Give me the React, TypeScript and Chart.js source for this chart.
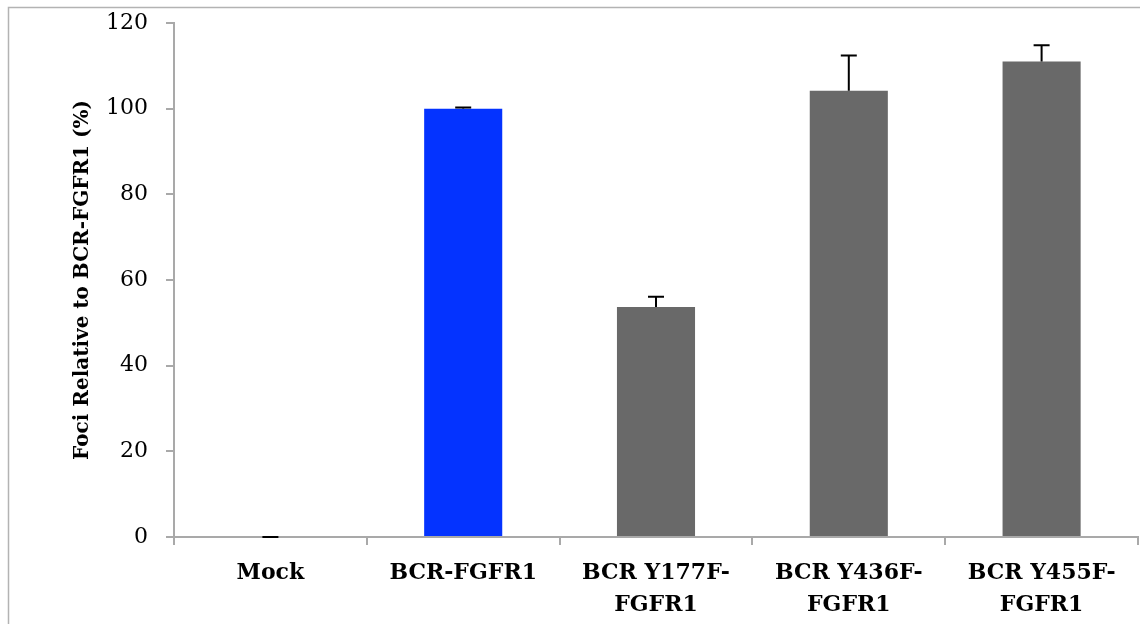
import React, { useEffect, useRef } from "react";
import { Chart, registerables } from "chart.js";

Chart.register(...registerables);

const categories: string[][] = [
  ["Mock"],
  ["BCR-FGFR1"],
  ["BCR Y177F-", "FGFR1"],
  ["BCR Y436F-", "FGFR1"],
  ["BCR Y455F-", "FGFR1"],
];
const values: number[] = [0, 100, 53.7, 104.2, 111.0];
const errors: number[] = [0, 0.3, 2.4, 8.2, 3.8];
const barColors: string[] = ["#696969", "#0433FF", "#696969", "#696969", "#696969"];
const yTicks: number[] = [0, 20, 40, 60, 80, 100, 120];

const FONT = "'DejaVu Serif', 'Liberation Serif', serif";
const AXIS_GRAY = "#a9a9a9";

const frameBorder = {
  id: "frameBorder",
  beforeDraw(chart: any) {
    const ctx = chart.ctx;
    ctx.save();
    ctx.fillStyle = "#ffffff";
    ctx.fillRect(0, 0, chart.width, chart.height);
    ctx.strokeStyle = "#b3b3b3";
    ctx.lineWidth = 1.5;
    ctx.beginPath();
    ctx.moveTo(8.5, chart.height + 10);
    ctx.lineTo(8.5, 7.5);
    ctx.lineTo(chart.width + 10, 7.5);
    ctx.stroke();
    ctx.restore();
  },
};

const errorBars = {
  id: "errorBars",
  afterDatasetsDraw(chart: any) {
    const ctx = chart.ctx;
    const meta = chart.getDatasetMeta(0);
    const yScale = chart.scales.y;
    ctx.save();
    ctx.strokeStyle = "#000000";
    ctx.lineWidth = 2;
    meta.data.forEach((bar: any, i: number) => {
      const x = bar.x;
      const y0 = yScale.getPixelForValue(values[i]);
      const y1 = yScale.getPixelForValue(values[i] + errors[i]);
      ctx.beginPath();
      ctx.moveTo(x, y0);
      ctx.lineTo(x, y1);
      ctx.moveTo(x - 8, y1);
      ctx.lineTo(x + 8, y1);
      ctx.stroke();
    });
    ctx.restore();
  },
};

export default function App() {
  const ref = useRef<HTMLCanvasElement | null>(null);
  useEffect(() => {
    if (!ref.current) return;
    const chart = new Chart(ref.current, {
      type: "bar",
      data: {
        labels: categories as any,
        datasets: [
          {
            data: values,
            backgroundColor: barColors,
            borderWidth: 0,
            barPercentage: 0.405,
            categoryPercentage: 1,
          },
        ],
      },
      options: {
        animation: false,
        responsive: false,
        maintainAspectRatio: false,
        layout: { padding: { top: 23, right: 2, left: 0, bottom: 0 } },
        plugins: {
          legend: { display: false },
          tooltip: { enabled: false },
        },
        scales: {
          x: {
            offset: true,
            grid: {
              display: true,
              drawOnChartArea: false,
              drawTicks: true,
              tickLength: 8,
              color: AXIS_GRAY,
              lineWidth: 2,
              offset: true,
            },
            border: { display: true, color: AXIS_GRAY, width: 2 },
            ticks: {
              color: "#000000",
              padding: 12,
              font: { family: FONT, size: 22, weight: "bold", lineHeight: 1.45 },
              maxRotation: 0,
              autoSkip: false,
            },
            afterFit(scale: any) {
              scale.height = 624 - 537;
            },
          },
          y: {
            min: 0,
            max: 120,
            afterBuildTicks(scale: any) {
              scale.ticks = yTicks.map((v) => ({ value: v }));
            },
            grid: {
              display: true,
              drawOnChartArea: false,
              drawTicks: true,
              tickLength: 8,
              color: AXIS_GRAY,
              lineWidth: 2,
            },
            border: { display: true, color: AXIS_GRAY, width: 2 },
            ticks: {
              color: "#000000",
              padding: 18,
              font: { family: FONT, size: 22 },
            },
            title: {
              display: true,
              text: "Foci Relative to BCR-FGFR1 (%)",
              color: "#000000",
              font: { family: FONT, size: 20, weight: "bold", lineHeight: 1.2 },
              padding: { top: 71, bottom: 0 },
            },
            afterFit(scale: any) {
              scale.width = 174;
              scale.paddingTop = 0;
              scale.paddingBottom = 0;
            },
          },
        },
      },
      plugins: [frameBorder, errorBars],
    });
    return () => chart.destroy();
  }, []);
  return (
    <div style={{ position: "fixed", left: 0, top: 0, width: 1140, height: 624, background: "#fff" }}>
      <canvas ref={ref} width={1140} height={624} style={{ display: "block", width: 1140, height: 624 }} />
    </div>
  );
}
